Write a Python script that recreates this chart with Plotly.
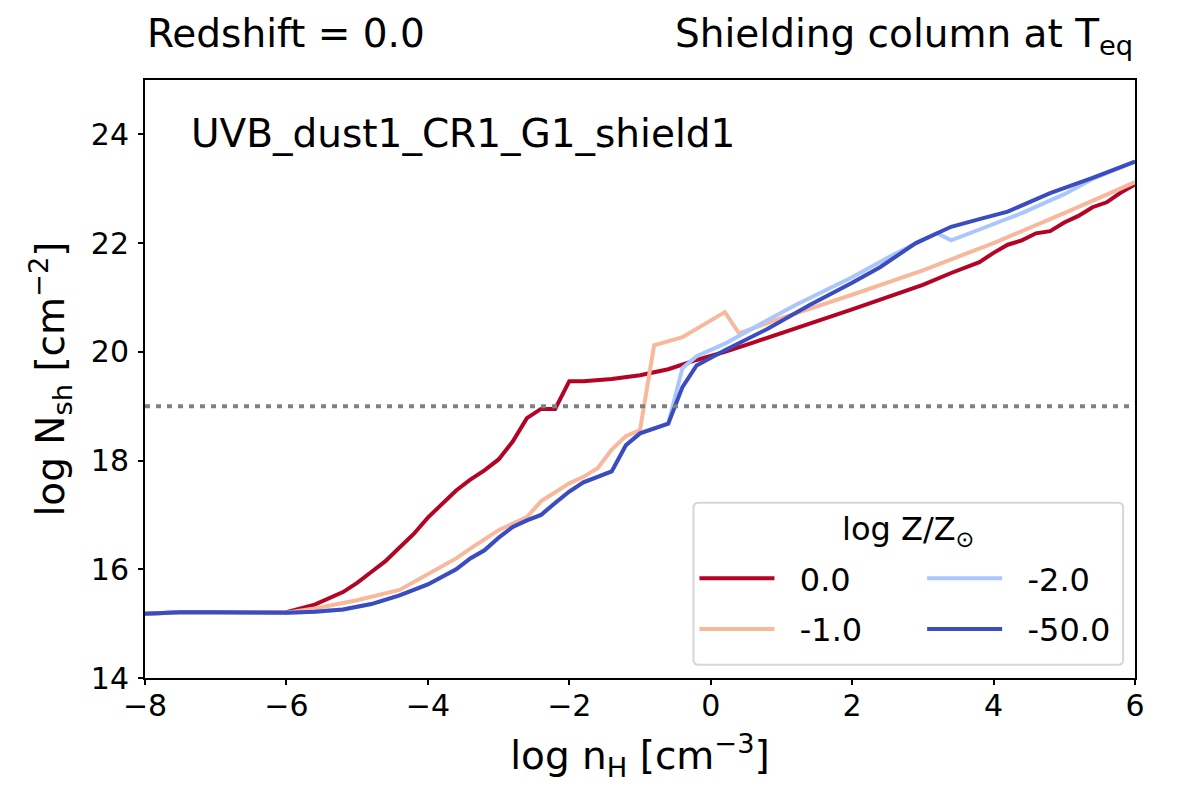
import plotly.graph_objects as go

# log n_H grid points and log N_sh for each metallicity
x_z0 = [-8, -7.5, -7, -6.5, -6, -5.6, -5.2, -5.0, -4.8, -4.6, -4.4, -4.2, -4.0, -3.8,
        -3.6, -3.4, -3.2, -3.0, -2.8, -2.6, -2.4, -2.2, -2.0, -1.8, -1.4, -1.0, -0.6,
        -0.2, 0.2, 0.6, 1.0, 1.4, 2.0, 2.6, 3.0, 3.4, 3.6, 3.8, 4.0, 4.2, 4.4, 4.6,
        4.8, 5.0, 5.2, 5.4, 5.6, 5.8, 6.0]
y_z0 = [15.18, 15.21, 15.21, 15.2, 15.21, 15.35, 15.58, 15.75, 15.95, 16.15, 16.4, 16.65,
        16.95, 17.2, 17.45, 17.65, 17.82, 18.02, 18.35, 18.78, 18.95, 18.95, 19.46, 19.46,
        19.5, 19.57, 19.68, 19.85, 20.0, 20.17, 20.35, 20.52, 20.78, 21.05, 21.23, 21.45,
        21.55, 21.65, 21.82, 21.97, 22.05, 22.18, 22.22, 22.38, 22.5, 22.66, 22.75, 22.93,
        23.08]

x_z1 = [-8, -7.5, -7, -6.5, -6, -5.6, -5.0, -4.4, -4.0, -3.6, -3.4, -3.0, -2.6, -2.4,
        -2.0, -1.8, -1.6, -1.4, -1.2, -1.0, -0.8, -0.4, 0.2, 0.4, 1.0, 2.0, 3.0, 4.0,
        5.0, 6.0]
y_z1 = [15.18, 15.2, 15.2, 15.2, 15.2, 15.28, 15.43, 15.62, 15.9, 16.2, 16.38, 16.72,
        16.96, 17.25, 17.58, 17.7, 17.86, 18.2, 18.45, 18.56, 20.12, 20.27, 20.73, 20.34,
        20.62, 21.05, 21.5, 22.0, 22.55, 23.12]

x_z2 = [-8, -7.5, -7, -6.5, -6, -5.6, -5.2, -4.8, -4.4, -4.0, -3.6, -3.4, -3.2, -3.0,
        -2.8, -2.6, -2.4, -2.2, -2.0, -1.8, -1.4, -1.2, -1.0, -0.6, -0.4, -0.2, 0.2,
        0.8, 1.2, 2.0, 2.6, 3.2, 3.4, 3.8, 4.4, 5.0, 5.4, 6.0]
y_z2 = [15.18, 15.21, 15.21, 15.2, 15.2, 15.22, 15.26, 15.36, 15.52, 15.72, 16.0, 16.2,
        16.35, 16.58, 16.78, 16.9, 17.0, 17.22, 17.43, 17.6, 17.8, 18.28, 18.5, 18.68,
        19.7, 19.92, 20.15, 20.58, 20.86, 21.37, 21.8, 22.18, 22.05, 22.25, 22.55, 22.9,
        23.18, 23.5]

x_z50 = [-8, -7.5, -7, -6.5, -6, -5.6, -5.2, -4.8, -4.4, -4.0, -3.6, -3.4, -3.2, -3.0,
         -2.8, -2.6, -2.4, -2.2, -2.0, -1.8, -1.4, -1.2, -1.0, -0.6, -0.4, -0.2, 0.2,
         0.8, 1.4, 2.0, 2.4, 2.9, 3.4, 3.8, 4.2, 4.8, 5.4, 6.0]
y_z50 = [15.18, 15.21, 15.21, 15.2, 15.2, 15.22, 15.26, 15.36, 15.52, 15.72, 16.0, 16.2,
         16.35, 16.58, 16.78, 16.9, 17.0, 17.22, 17.43, 17.6, 17.8, 18.28, 18.5, 18.68,
         19.35, 19.75, 20.03, 20.42, 20.86, 21.27, 21.56, 22.0, 22.3, 22.44, 22.58, 22.92,
         23.2, 23.5]

labels = ['0.0', '-1.0', '-2.0', '-50.0']
colors = ['#b40426', '#f7b89c', '#aac7fd', '#3b4cc0']
legends = ['legend', 'legend', 'legend2', 'legend2']
series = [(x_z0, y_z0), (x_z1, y_z1), (x_z2, y_z2), (x_z50, y_z50)]

shield_threshold = 19.0

FONT = 'DejaVu Sans'

fig = go.Figure()

fig.add_hline(y=shield_threshold, line=dict(color='#808080', width=4, dash='5px,6px'))

for i, (xs, ys) in enumerate(series):
    fig.add_trace(go.Scatter(
        x=xs, y=ys,
        mode='lines',
        name='\u00a0\u00a0' + labels[i],
        legend=legends[i],
        legendgroup=labels[i],
        line=dict(color=colors[i], width=4),
    ))

leg_style = dict(
    bgcolor='rgba(0,0,0,0)',
    borderwidth=0,
    font=dict(family=FONT, size=32, color='black'),
    itemwidth=75,
    tracegroupgap=6,
    yanchor='bottom',
    xanchor='left',
)

# the page body adds an 8px offset, so the figure is a bit smaller than the window
fig.update_layout(
    width=1180,
    height=782,
    margin=dict(l=137, r=53, t=72, b=112),
    plot_bgcolor='white',
    paper_bgcolor='white',
    font=dict(family=FONT, size=30, color='black'),
    legend=dict(x=0.555, y=0.035, **leg_style),
    legend2=dict(x=0.785, y=0.035, **leg_style),
    xaxis=dict(
        range=[-8, 6],
        tickvals=[-8, -6, -4, -2, 0, 2, 4, 6],
        ticks='outside', ticklen=5, tickwidth=1.5, tickcolor='black',
        ticklabelstandoff=-5,
        showline=True, linecolor='black', linewidth=2, mirror=True,
        showgrid=False, zeroline=False,
        tickfont=dict(size=30),
        title=dict(text='log n<sub>H</sub> [cm<sup>−3</sup>]', font=dict(size=39), standoff=20),
    ),
    yaxis=dict(
        range=[14, 25],
        tickvals=[14, 16, 18, 20, 22, 24],
        ticks='outside', ticklen=5, tickwidth=1.5, tickcolor='black',
        ticklabelstandoff=3,
        showline=True, linecolor='black', linewidth=2, mirror=True,
        showgrid=False, zeroline=False,
        tickfont=dict(size=30),
        title=dict(text='log N<sub>sh</sub> [cm<sup>−2</sup>]', font=dict(size=39), standoff=14),
    ),
)

# legend frame (rounded corners) and title
r_x, r_y = 0.005, 0.0084
bx0, bx1, by0, by1 = 0.554, 0.988, 0.022, 0.293
frame_path = (
    f'M {bx0 + r_x},{by0} L {bx1 - r_x},{by0} Q {bx1},{by0} {bx1},{by0 + r_y} '
    f'L {bx1},{by1 - r_y} Q {bx1},{by1} {bx1 - r_x},{by1} '
    f'L {bx0 + r_x},{by1} Q {bx0},{by1} {bx0},{by1 - r_y} '
    f'L {bx0},{by0 + r_y} Q {bx0},{by0} {bx0 + r_x},{by0} Z'
)
fig.add_shape(type='path', path=frame_path, xref='paper', yref='paper',
              line=dict(color='#d6d6d6', width=2), fillcolor='white', layer='below')
fig.add_annotation(text='log Z/Z<sub>⊙</sub>', xref='paper', yref='paper',
                   x=0.771, y=0.245, xanchor='center', yanchor='middle',
                   showarrow=False, font=dict(size=32))

fig.add_annotation(text='UVB_dust1_CR1_G1_shield1', xref='paper', yref='paper',
                   x=0.044, y=0.91, xanchor='left', yanchor='middle',
                   showarrow=False, font=dict(size=39))
fig.add_annotation(text='Redshift = 0.0', xref='paper', yref='paper',
                   x=0.0, y=1.119, xanchor='left', yanchor='top',
                   showarrow=False, font=dict(size=39))
fig.add_annotation(text='Shielding column at T<sub>eq</sub>', xref='paper', yref='paper',
                   x=1.0, y=1.119, xanchor='right', yanchor='top',
                   showarrow=False, font=dict(size=39))

fig.write_html("out.html")
